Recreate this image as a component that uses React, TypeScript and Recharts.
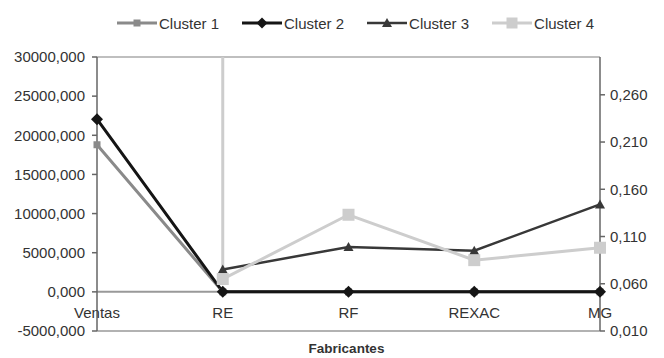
import React from 'react';
import { LineChart, Line, XAxis, YAxis, ReferenceLine } from 'recharts';

// Categories along the horizontal axis
const categories = ['Ventas', 'RE', 'RF', 'REXAC', 'MG'];

// Cluster 1 and 2 are plotted on the primary (left) axis
const cluster1 = [18800, 0, 0, 0, 0];
const cluster2 = [22050, 0, 0, 0, 0];
// Cluster 3 and 4 are plotted on the secondary (right) axis
const cluster3: (number | null)[] = [null, 0.075, 0.099, 0.095, 0.144];
const cluster4 = [20000, 0.065, 0.133, 0.085, 0.098];

// Axis ticks
const leftTicks = [-5000, 0, 5000, 10000, 15000, 20000, 25000, 30000];
const rightTicks = [0.01, 0.06, 0.11, 0.16, 0.21, 0.26];
const LEFT_DOMAIN: [number, number] = [-5000, 30000];
const RIGHT_DOMAIN: [number, number] = [0.01, 0.3];

const seriesNames = ['Cluster 1', 'Cluster 2', 'Cluster 3', 'Cluster 4'];

const data = categories.map((name, i) => ({
  name,
  c1: cluster1[i],
  c2: cluster2[i],
  c3: cluster3[i],
  c4: cluster4[i],
}));

const W = 664;
const H = 358;
const MARGIN = { top: 57, right: 4, bottom: 0, left: 7 };
const LEFT_W = 90;
const RIGHT_W = 60;
const X_H = 27;
const PLOT_TOP = MARGIN.top;
const PLOT_H = H - MARGIN.top - MARGIN.bottom - X_H;
// vertical position of the category axis (value 0 on the left axis)
const ZERO_Y = PLOT_TOP + ((LEFT_DOMAIN[1] - 0) / (LEFT_DOMAIN[1] - LEFT_DOMAIN[0])) * PLOT_H;

const FONT = '"Liberation Sans", Arial, sans-serif';
const TEXT = '#333333';

const fmt = (v: number) => v.toFixed(3).replace('.', ',');

type Shape = 'square' | 'diamond' | 'triangle';

function markerPath(shape: Shape, cx: number, cy: number, s: number) {
  const h = s / 2;
  if (shape === 'square') return `M${cx - h},${cy - h}h${s}v${s}h${-s}Z`;
  if (shape === 'diamond') return `M${cx},${cy - h}L${cx + h},${cy}L${cx},${cy + h}L${cx - h},${cy}Z`;
  return `M${cx},${cy - h}L${cx + h},${cy + h * 0.8}L${cx - h},${cy + h * 0.8}Z`;
}

const styles = [
  { key: 'c1', color: '#8a8a8a', width: 3, shape: 'square' as Shape, size: 7, axis: 'left' },
  { key: 'c2', color: '#151515', width: 3, shape: 'diamond' as Shape, size: 12, axis: 'left' },
  { key: 'c3', color: '#383838', width: 2.5, shape: 'triangle' as Shape, size: 10, axis: 'right' },
  { key: 'c4', color: '#cdcdcd', width: 3, shape: 'square' as Shape, size: 12, axis: 'right' },
];

const makeDot = (shape: Shape, size: number, color: string) => (props: any) => {
  const { cx, cy, index, value } = props;
  if (value == null || cx == null || cy == null || !isFinite(cy)) return <g key={`d-${index}`} />;
  return <path key={`d-${index}`} d={markerPath(shape, cx, cy, size)} fill={color} stroke="none" />;
};

const CategoryTick = (props: any) => {
  const { x, payload } = props;
  return (
    <text x={x} y={ZERO_Y + 26} textAnchor="middle" fill={TEXT} fontSize={15} fontFamily={FONT}>
      {payload.value}
    </text>
  );
};

const Legend = () => (
  <div
    style={{
      position: 'absolute',
      left: 117,
      top: 13,
      display: 'flex',
      alignItems: 'center',
      fontFamily: FONT,
      fontSize: 15,
      color: TEXT,
      whiteSpace: 'nowrap',
    }}
  >
    {styles.map((s, i) => (
      <div key={s.key} style={{ display: 'flex', alignItems: 'center', marginRight: 23 }}>
        <svg width={40} height={20} style={{ marginRight: 2 }}>
          <line x1={0} y1={10} x2={40} y2={10} stroke={s.color} strokeWidth={s.width} />
          <path d={markerPath(s.shape, 20, 10, Math.min(s.size, 11))} fill={s.color} />
        </svg>
        <span>{seriesNames[i]}</span>
      </div>
    ))}
  </div>
);

export default function App() {
  return (
    <div style={{ position: 'absolute', left: 0, top: 0, width: W, height: H, background: '#fff' }}>
      <Legend />
      <LineChart width={W} height={H} data={data} margin={MARGIN}>
        <XAxis
          dataKey="name"
          scale="point"
          padding={{ left: 0, right: 0 }}
          height={X_H}
          axisLine={false}
          tickLine={false}
          tick={<CategoryTick />}
          interval={0}
          label={(p: any) => {
            const vb = p.viewBox;
            return (
              <text
                x={vb.x + vb.width / 2 - 2}
                y={vb.y + 22}
                textAnchor="middle"
                fill={TEXT}
                fontSize={13.5}
                fontWeight="bold"
                fontFamily={FONT}
              >
                Fabricantes
              </text>
            );
          }}
        />
        <YAxis
          yAxisId="left"
          width={LEFT_W}
          domain={LEFT_DOMAIN}
          ticks={leftTicks}
          allowDataOverflow
          tickFormatter={fmt}
          stroke="#666"
          axisLine={{ stroke: '#666', strokeWidth: 1.5 }}
          tickLine={{ stroke: '#666', strokeWidth: 1.5 }}
          tickSize={5}
          tickMargin={7}
          tick={{ fill: TEXT, fontSize: 15, fontFamily: FONT }}
        />
        <YAxis
          yAxisId="right"
          orientation="right"
          width={RIGHT_W}
          domain={RIGHT_DOMAIN}
          ticks={rightTicks}
          allowDataOverflow
          tickFormatter={fmt}
          axisLine={{ stroke: '#666', strokeWidth: 1.5 }}
          tickLine={{ stroke: '#666', strokeWidth: 1.5 }}
          tickSize={5}
          tickMargin={5}
          tick={{ fill: TEXT, fontSize: 15, fontFamily: FONT }}
        />
        <ReferenceLine yAxisId="left" y={LEFT_DOMAIN[1]} stroke="#aaa" strokeWidth={1.5} />
        <ReferenceLine yAxisId="left" y={LEFT_DOMAIN[0]} stroke="#999" strokeWidth={1.5} />
        <ReferenceLine yAxisId="left" y={0} stroke="#999" strokeWidth={2} />
        {styles.map((s) => (
          <Line
            key={s.key}
            yAxisId={s.axis}
            dataKey={s.key}
            type="linear"
            stroke={s.color}
            strokeWidth={s.width}
            dot={makeDot(s.shape, s.size, s.color)}
            activeDot={false}
            connectNulls={false}
            isAnimationActive={false}
          />
        ))}
      </LineChart>
    </div>
  );
}
